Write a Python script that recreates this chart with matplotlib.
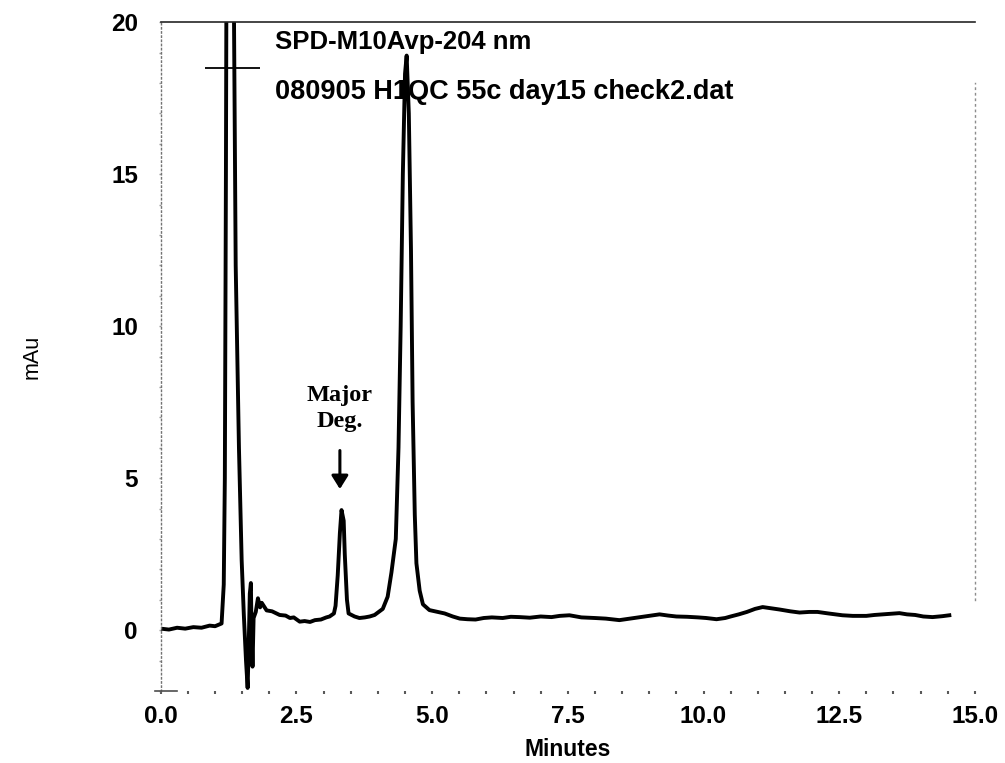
import numpy as np
import matplotlib
matplotlib.use("Agg")
import matplotlib.pyplot as plt
from matplotlib.ticker import MultipleLocator

# retention time (min) and detector signal (mAu)
minutes = [
    0.00, 0.15, 0.30, 0.45, 0.60, 0.75, 0.90, 1.00, 1.12, 1.16,
    1.18, 1.20, 1.215, 1.27, 1.33, 1.38, 1.44, 1.49, 1.53, 1.57,
    1.60, 1.62, 1.64, 1.66, 1.67, 1.69, 1.71, 1.75, 1.79, 1.83,
    1.86, 1.95, 2.05, 2.19, 2.30, 2.38, 2.45, 2.56, 2.65, 2.75,
    2.84, 2.95, 3.05, 3.11, 3.19, 3.22, 3.26, 3.30, 3.33, 3.37,
    3.39, 3.43, 3.46, 3.57, 3.66, 3.76, 3.85, 3.94, 4.09, 4.18,
    4.25, 4.33, 4.38, 4.42, 4.46, 4.50, 4.53, 4.57, 4.61, 4.64,
    4.68, 4.71, 4.77, 4.83, 4.95, 5.10, 5.23, 5.38, 5.51, 5.65,
    5.80, 5.95, 6.10, 6.30, 6.45, 6.61, 6.80, 7.00, 7.20, 7.35,
    7.53, 7.75, 8.00, 8.20, 8.45, 8.60, 8.80, 9.00, 9.19, 9.35,
    9.50, 9.70, 9.90, 10.05, 10.24, 10.40, 10.50, 10.65, 10.80, 10.95,
    11.09, 11.25, 11.40, 11.60, 11.77, 11.95, 12.10, 12.30, 12.56, 12.75,
    13.00, 13.15, 13.30, 13.45, 13.61, 13.75, 13.90, 14.05, 14.22, 14.40,
    14.53,
]
mau = [
    0.05, 0.02, 0.08, 0.05, 0.10, 0.08, 0.15, 0.13, 0.22, 1.5,
    5.0, 15.0, 25.0, 60.0, 25.0, 12.0, 6.0, 2.3, 0.5, -1.0,
    -1.9, -0.5, 1.2, 1.55, 0.2, -1.2, 0.4, 0.6, 1.05, 0.75,
    0.90, 0.65, 0.62, 0.50, 0.48, 0.40, 0.42, 0.28, 0.30, 0.27,
    0.33, 0.35, 0.42, 0.45, 0.55, 0.80, 1.80, 3.20, 3.95, 3.60,
    2.50, 1.00, 0.55, 0.45, 0.40, 0.42, 0.45, 0.50, 0.70, 1.10,
    1.90, 3.00, 6.00, 10.0, 15.0, 18.3, 18.9, 17.0, 12.5, 7.5,
    3.80, 2.20, 1.30, 0.85, 0.66, 0.60, 0.55, 0.45, 0.38, 0.36,
    0.35, 0.40, 0.42, 0.40, 0.44, 0.43, 0.41, 0.45, 0.43, 0.47,
    0.49, 0.42, 0.40, 0.38, 0.33, 0.37, 0.42, 0.47, 0.52, 0.48,
    0.45, 0.44, 0.42, 0.40, 0.36, 0.40, 0.45, 0.52, 0.60, 0.70,
    0.76, 0.72, 0.68, 0.62, 0.58, 0.60, 0.60, 0.55, 0.49, 0.47,
    0.47, 0.50, 0.52, 0.54, 0.56, 0.52, 0.50, 0.45, 0.43, 0.46,
    0.49,
]

x_ticks = [0.0, 2.5, 5.0, 7.5, 10.0, 12.5, 15.0]
y_ticks = [0, 5, 10, 15, 20]

header_lines = ["SPD-M10Avp-204 nm", "080905 H1QC 55c day15 check2.dat"]
note = "Major\nDeg."
note_x, note_y = 3.30, 7.3
arrow_from, arrow_to = (3.30, 6.0), (3.30, 4.55)
marker_y, marker_x = 18.5, (0.81, 1.82)

fig = plt.figure(figsize=(10.05, 7.63), dpi=100)
ax = fig.add_axes([0.160, 0.0944, 0.810, 0.8766])

ax.plot(minutes, mau, color="black", lw=2.8, solid_joinstyle="round")
ax.hlines(marker_y, marker_x[0], marker_x[1], color="black", lw=1.3)

ax.set_xlim(0, 15)
ax.set_ylim(-2, 20)
ax.set_xticks(x_ticks)
ax.set_yticks(y_ticks)
ax.set_xticklabels([f"{v:.1f}" for v in x_ticks])
ax.set_yticklabels([str(v) for v in y_ticks])
ax.xaxis.set_minor_locator(MultipleLocator(0.5))
ax.yaxis.set_minor_locator(MultipleLocator(1))

for lab in ax.get_xticklabels() + ax.get_yticklabels():
    lab.set_fontfamily("Liberation Sans")
    lab.set_fontweight("bold")
    lab.set_fontsize(17.5)

ax.tick_params(axis="x", which="both", direction="out", length=2, width=1.5,
               colors="0.35", labelcolor="black", pad=8)
ax.tick_params(axis="y", which="both", direction="out", length=1.5, width=1.0,
               colors="0.6", labelcolor="black", pad=15)

ax.spines["left"].set_color("0.45")
ax.spines["left"].set_linestyle((0, (1, 2)))
ax.spines["left"].set_linewidth(1.0)
ax.spines["top"].set_color("0.15")
ax.spines["top"].set_linestyle((0, (8, 1)))
ax.spines["top"].set_linewidth(1.2)
ax.spines["right"].set_color("0.55")
ax.spines["right"].set_linestyle((0, (1, 3)))
ax.spines["right"].set_linewidth(1.0)
ax.spines["right"].set_bounds(1.0, 18.0)
ax.spines["bottom"].set_color("0.3")
ax.spines["bottom"].set_linewidth(1.2)
ax.spines["bottom"].set_bounds(-0.1, 0.3)

ax.set_xlabel("Minutes", fontfamily="Liberation Sans", fontweight="bold", fontsize=16.5)
ax.xaxis.set_label_coords(0.5, -0.07)
ax.set_ylabel("mAu", fontfamily="Liberation Sans", fontsize=15.5)
ax.yaxis.set_label_coords(-0.145, 0.5)

ax.text(2.10, 19.35, header_lines[0], fontfamily="Liberation Sans", fontweight="bold",
        fontsize=18.5, va="center", ha="left")
ax.text(2.10, 17.7, header_lines[1], fontfamily="Liberation Sans", fontweight="bold",
        fontsize=19.5, va="center", ha="left")

ax.text(note_x, note_y, note, fontfamily="Liberation Serif", fontweight="bold",
        fontsize=17.5, ha="center", va="center", linespacing=1.3)
ax.annotate("", xy=arrow_to, xytext=arrow_from,
            arrowprops=dict(arrowstyle="-|>,head_width=0.5,head_length=0.8",
                            color="black", lw=2.2))

fig.savefig("out.png", dpi=100)
